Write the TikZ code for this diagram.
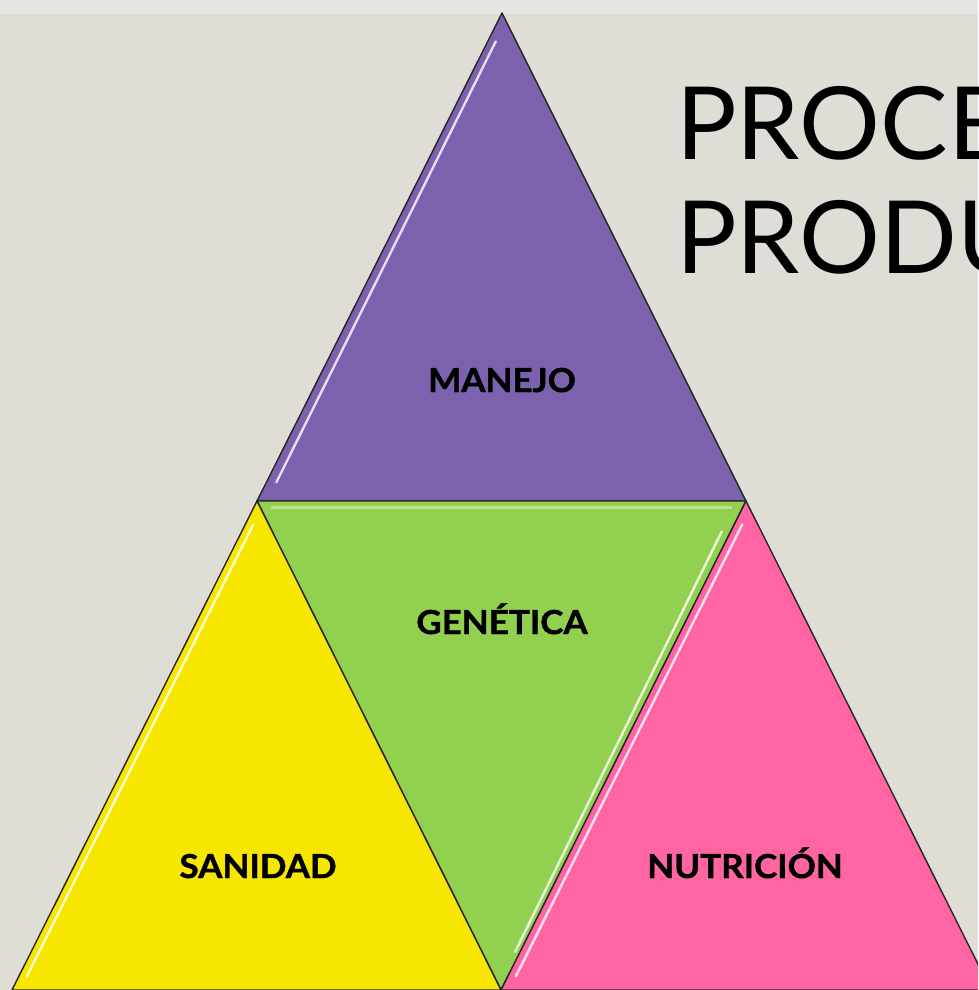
\documentclass[tikz,border=0pt]{standalone}
\usepackage{fontspec}
\setmainfont{Lato}
\newfontfamily\lblfont{Lato}[BoldFeatures={FakeBold=1.2}]
\usetikzlibrary{calc}
\definecolor{bg}{HTML}{E0DDD6}
\definecolor{bgtop}{HTML}{E8E6E2}
\definecolor{cpurple}{HTML}{7B61AE}
\definecolor{cgreen}{HTML}{92D050}
\definecolor{cyellow}{HTML}{F7E600}
\definecolor{cpink}{HTML}{FF65A3}
\newcommand{\lbltext}[1]{\scalebox{1.06}[1]{#1}}
\tikzset{
  tri/.style={draw=black!85, line width=1.4pt, line join=round},
  gloss/.style={draw=white, line width=2.4pt, opacity=0.8, line cap=round},
  lbl/.style={font=\lblfont\fontsize{33}{40}\selectfont\bfseries, text=black, anchor=base, inner sep=0pt},
  ttl/.style={font=\fontsize{101}{114}\selectfont, text=black, anchor=base west, inner sep=0pt}
}
\begin{document}
\begin{tikzpicture}[x=1pt,y=-1pt]
\useasboundingbox (0,0) rectangle (978,990);
\clip (0,0) rectangle (978,990);
\fill[bg] (0,0) rectangle (978,990);
\fill[bgtop] (0,0) rectangle (978,14);
% vertices
\coordinate (A) at (502,13);
\coordinate (B) at (257,501);
\coordinate (C) at (746,501);
\coordinate (D) at (12,990);
\coordinate (E) at (501,990);
\coordinate (F) at (991,990);
% triangles
\filldraw[tri, fill=cpurple] (A) -- (B) -- (C) -- cycle;
\filldraw[tri, fill=cgreen] (B) -- (C) -- (E) -- cycle;
\filldraw[tri, fill=cyellow] (B) -- (D) -- (E) -- cycle;
\filldraw[tri, fill=cpink] (C) -- (E) -- (F) -- cycle;
% gloss highlights
\draw[gloss] ($(A)!0.05!(B)+(6,4)$) -- ($(A)!0.97!(B)+(12,-4)$);
\draw[gloss] ($(B)!0.04!(D)+(6,4)$) -- ($(B)!0.98!(D)+(10,-4)$);
\draw[gloss] ($(C)!0.04!(E)+(6,4)$) -- ($(C)!0.98!(E)+(10,-4)$);
\draw[gloss] ($(C)!0.05!(E)+(-12,6)$) -- ($(C)!0.93!(E)+(-3,-4)$);
\draw[white, opacity=0.35, line width=3pt] ($(B)+(14,6)$) -- ($(C)+(-14,6)$);
% labels
\node[lbl] (manejo) at (502,392) {\lbltext{MANEJO}};
\node[lbl] (genetica) at (502,634) {\lbltext{GENÉTICA}};
\node[lbl] (sanidad) at (258,878) {\lbltext{SANIDAD}};
\node[lbl] (nutricion) at (745,878) {\lbltext{NUTRICIÓN}};
% title
\node[ttl] (t1) at (676,159) {PROCE};
\node[ttl] (t2) at (676,273) {PRODU};
\end{tikzpicture}
\end{document}
